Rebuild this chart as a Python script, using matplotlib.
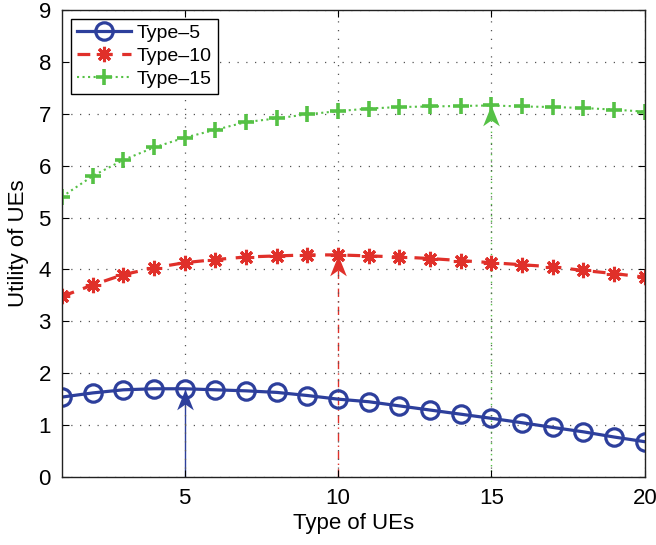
import numpy as np
import matplotlib.pyplot as plt
from matplotlib.path import Path

plt.rcParams['font.family'] = ['Liberation Sans', 'DejaVu Sans']

ue_types = np.arange(1, 21)
utility_type5 = [1.54, 1.62, 1.68, 1.70, 1.70, 1.68, 1.66, 1.63, 1.57, 1.50,
                 1.45, 1.37, 1.29, 1.21, 1.13, 1.045, 0.955, 0.87, 0.77, 0.68]
utility_type10 = [3.48, 3.70, 3.90, 4.03, 4.13, 4.19, 4.24, 4.26, 4.28, 4.28,
                  4.26, 4.24, 4.21, 4.17, 4.13, 4.09, 4.05, 3.98, 3.92, 3.85]
utility_type15 = [5.40, 5.80, 6.11, 6.35, 6.54, 6.69, 6.84, 6.91, 6.99, 7.05,
                  7.10, 7.13, 7.14, 7.15, 7.16, 7.14, 7.13, 7.11, 7.08, 7.04]

series_names = ['Type\u20135', 'Type\u201310', 'Type\u201315']
series_types = [5, 10, 15]

blue = '#2d3f9c'
red = '#e0302a'
green = '#55c145'

fig = plt.figure(figsize=(6.56, 5.45), dpi=100)
ax = fig.add_axes([0.0945, 0.1248, 0.8885, 0.8569])

ax.plot(ue_types, utility_type5, '-', color=blue, lw=2.3, marker='o',
        ms=12.5, mfc='none', mec=blue, mew=2.3, label=series_names[0])
ax.plot(ue_types, utility_type10, '--', color=red, lw=2.3,
        dashes=(4, 3), marker=(8, 2, 0), ms=11, mec=red, mew=2.2,
        label=series_names[1])
ax.plot(ue_types, utility_type15, ':', color=green, lw=1.5,
        marker='+', ms=11, mec=green, mew=2.6, label=series_names[2])

# arrow from the x axis up to each curve at its own type
head = Path([(0, 0), (-0.4, -1.0), (0, -0.72), (0.4, -1.0), (0, 0)],
            [Path.MOVETO, Path.LINETO, Path.LINETO, Path.LINETO, Path.CLOSEPOLY])
curves = [utility_type5, utility_type10, utility_type15]
colors = [blue, red, green]
shaft_styles = ['-', (0, (6, 3, 1, 3)), (0, (1, 3))]
for t, curve, c, ls in zip(series_types, curves, colors, shaft_styles):
    top = curve[t - 1]
    ax.plot([t, t], [0, top], color=c, lw=1.0, ls=ls, zorder=1)
    ax.plot([t], [top], marker=head, ms=30, color=c, mec='none', zorder=4)

ax.set_xlim(1, 20)
ax.set_ylim(0, 9)
ax.set_xticks([5, 10, 15, 20])
ax.set_yticks(range(0, 10))
ax.tick_params(direction='in', length=5, width=0.8, top=True, right=True,
               labelsize=16, pad=8)
ax.grid(True, color='#555555', ls=(0, (1, 6)), lw=0.9)
for s in ax.spines.values():
    s.set_linewidth(1.0)
    s.set_color('#222222')

ax.set_xlabel('Type of UEs', fontsize=16, labelpad=3)
ax.set_ylabel('Utility of UEs', fontsize=16, labelpad=7)

leg = ax.legend(loc='upper left', fontsize=14, handlelength=2.8,
                handletextpad=0.3, borderpad=0.3, labelspacing=0.28,
                borderaxespad=0.45, fancybox=False, framealpha=1)
leg.get_frame().set_edgecolor('black')
leg.get_frame().set_linewidth(1.0)

fig.savefig('out.png', dpi=100)
